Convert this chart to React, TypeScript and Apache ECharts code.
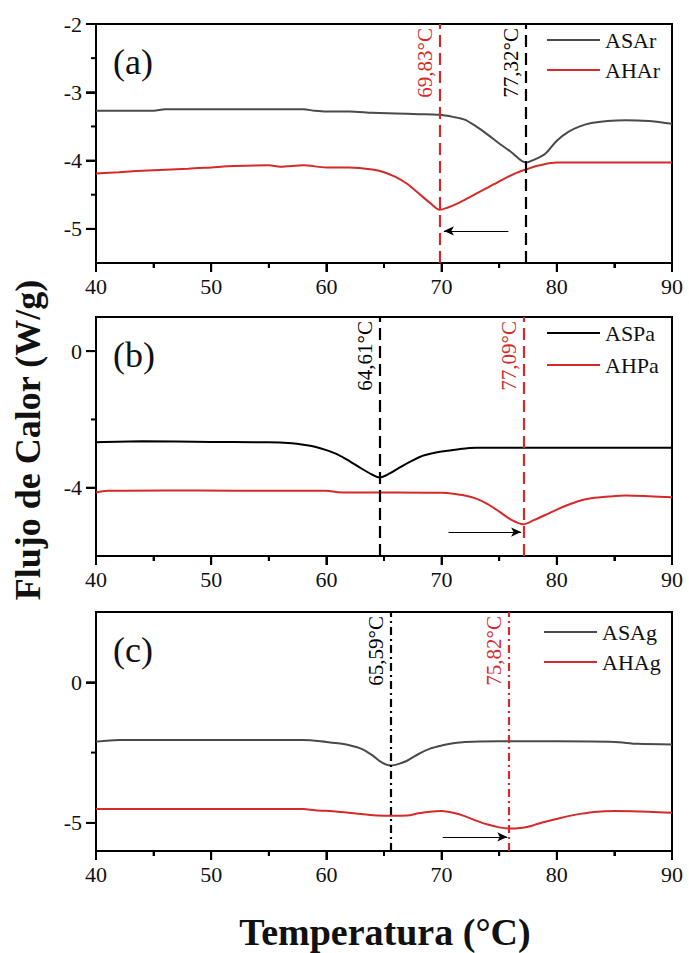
import React, { useEffect, useRef } from "react";
import * as echarts from "echarts";

const FONT = "Liberation Serif";
const RED = "#d42a2a";
const GRAY = "#4a4a4a";
const BLACK = "#000000";

// Panel (a)
const asarX = [40, 45, 46, 50, 55, 58, 59, 60, 62, 64, 66, 68, 69.8, 71, 72, 73, 74, 75, 76, 77.32, 78, 79, 80, 81, 82, 83, 84.4, 86, 88, 89, 90];
const asarY = [-3.27, -3.27, -3.25, -3.25, -3.25, -3.25, -3.27, -3.28, -3.28, -3.3, -3.31, -3.32, -3.33, -3.36, -3.4, -3.5, -3.62, -3.75, -3.87, -4.03, -3.99, -3.9, -3.71, -3.58, -3.5, -3.45, -3.42, -3.41, -3.42, -3.44, -3.46];
const aharX = [40, 42, 45, 48, 50, 52, 55, 56, 58, 60, 62, 64, 65, 66, 67, 68, 69, 69.83, 70.5, 71.5, 72.5, 73.5, 74.5, 75.5, 76.5, 77.5, 78.5, 80, 82, 85, 90];
const aharY = [-4.19, -4.17, -4.14, -4.12, -4.1, -4.08, -4.07, -4.09, -4.07, -4.1, -4.1, -4.13, -4.17, -4.24, -4.34, -4.48, -4.62, -4.72, -4.69, -4.62, -4.53, -4.44, -4.35, -4.26, -4.18, -4.12, -4.07, -4.03, -4.03, -4.03, -4.03];

// Panel (b)
const aspaX = [40, 44, 50, 55, 57, 58, 59, 60, 61, 62, 63, 64, 64.61, 65.5, 66.5, 67.5, 68.5, 70, 71.5, 73, 80, 90];
const aspaY = [-2.67, -2.64, -2.66, -2.67, -2.7, -2.74, -2.8, -2.9, -3.03, -3.22, -3.43, -3.62, -3.7, -3.58, -3.38, -3.2, -3.05, -2.94, -2.87, -2.83, -2.83, -2.83];
const ahpaX = [40, 41, 46, 52, 60, 61, 62, 66, 70, 71, 72, 73, 74, 75, 76, 77.09, 78, 79, 80, 81, 82, 83, 84.5, 86, 88, 90];
const ahpaY = [-4.14, -4.09, -4.08, -4.09, -4.09, -4.13, -4.14, -4.14, -4.15, -4.18, -4.23, -4.32, -4.48, -4.7, -4.93, -5.07, -4.95, -4.8, -4.64, -4.5, -4.38, -4.31, -4.26, -4.23, -4.25, -4.28];

// Panel (c)
const asagX = [40, 42, 50, 58, 60, 61, 62, 63, 64, 64.8, 65.59, 66.3, 67, 68, 69, 70, 71, 72, 75, 80, 85, 87, 90];
const asagY = [-2.11, -2.05, -2.05, -2.05, -2.12, -2.17, -2.24, -2.36, -2.6, -2.85, -2.96, -2.9, -2.79, -2.55, -2.36, -2.25, -2.17, -2.12, -2.1, -2.1, -2.12, -2.19, -2.21];
const ahagX = [40, 50, 58, 59, 61, 63, 64.5, 65.6, 67, 68, 69, 70, 71, 72, 73, 74, 75, 75.82, 77, 78, 79, 80, 81, 82, 83.5, 85, 88, 90];
const ahagY = [-4.51, -4.51, -4.51, -4.55, -4.6, -4.68, -4.74, -4.75, -4.74, -4.66, -4.6, -4.58, -4.64, -4.76, -4.92, -5.06, -5.16, -5.2, -5.17, -5.08, -4.96, -4.86, -4.76, -4.68, -4.6, -4.58, -4.6, -4.64];

// Peaks, labels and arrows
const peaks = [
  { as: 77.32, ah: 69.83, asText: "77,32°C", ahText: "69,83°C" },
  { as: 64.61, ah: 77.09, asText: "64,61°C", ahText: "77,09°C" },
  { as: 65.59, ah: 75.82, asText: "65,59°C", ahText: "75,82°C" },
];
const arrows = [
  { from: 75.8, to: 70.2, y: -5.03 },
  { from: 70.6, to: 76.9, y: -5.3 },
  { from: 70.1, to: 75.7, y: -5.5 },
];

// Axis settings
const X_MIN = 40;
const X_MAX = 90;
const xMajorTicks = [40, 50, 60, 70, 80, 90];
const xMinorTicks = [45, 55, 65, 75, 85];
const yRanges = [
  { min: -5.5, max: -2, major: [-5, -4, -3, -2], minor: [-4.5, -3.5, -2.5] },
  { min: -6, max: 1, major: [-4, 0], minor: [-2] },
  { min: -6, max: 2.5, major: [-5, 0], minor: [-2.5] },
];
const seriesNames = [
  ["ASAr", "AHAr"],
  ["ASPa", "AHPa"],
  ["ASAg", "AHAg"],
];
const panelLabels = ["(a)", "(b)", "(c)"];
const asColors = [GRAY, BLACK, GRAY];
const lineDash = [[12, 6], [12, 6], [8, 4, 2, 4]];

const GRID_TOPS = [24, 317, 612];
const GRID_LEFT = 96;
const GRID_W = 576;
const GRID_H = 239;

const pairs = (xs: number[], ys: number[]) => xs.map((x, i) => [x, ys[i]]);

const seriesData = [
  [pairs(asarX, asarY), pairs(aharX, aharY)],
  [pairs(aspaX, aspaY), pairs(ahpaX, ahpaY)],
  [pairs(asagX, asagY), pairs(ahagX, ahagY)],
];

function vline(x: number, ymin: number, ymax: number, color: string, dash: number[], text: string) {
  return [
    {
      coord: [x, ymin],
      symbol: "none",
      lineStyle: { color, width: 2.2, type: dash },
      label: {
        show: true,
        position: "insideEndTop",
        formatter: text,
        color,
        fontFamily: FONT,
        fontSize: 21,
        distance: 4,
      },
    },
    { coord: [x, ymax], symbol: "none" },
  ];
}

function arrowLine(a: { from: number; to: number; y: number }) {
  return [
    {
      coord: [a.from, a.y],
      symbol: "none",
      lineStyle: { color: "#000", width: 1.2, type: "solid" },
      label: { show: false },
    },
    { coord: [a.to, a.y], symbol: "arrow", symbolSize: [7, 10] },
  ];
}

// tick records for a panel: [x, y, kind (0 = x tick, 1 = y tick), length]
function tickData(p: number) {
  const yr = yRanges[p];
  const out: number[][] = [];
  xMajorTicks.forEach((v) => out.push([v, yr.min, 0, 9]));
  xMinorTicks.forEach((v) => out.push([v, yr.min, 0, 5]));
  yr.major.forEach((v) => out.push([X_MIN, v, 1, 10]));
  yr.minor.forEach((v) => out.push([X_MIN, v, 1, 5]));
  return out;
}

export default function App() {
  const ref = useRef<HTMLDivElement>(null);
  useEffect(() => {
    document.body.style.margin = "0";
    if (!ref.current) return;
    const chart = echarts.init(ref.current, null, { renderer: "svg" });

    const grids: any[] = [];
    const xAxes: any[] = [];
    const yAxes: any[] = [];
    const series: any[] = [];
    const legends: any[] = [];
    const graphics: any[] = [];
    const legendTops = [29, 322, 621];
    const legendLefts = [547, 547, 544];
    const legendGaps = [8, 10, 8];

    for (let p = 0; p < 3; p++) {
      grids.push({
        left: GRID_LEFT,
        top: GRID_TOPS[p],
        width: GRID_W,
        height: GRID_H,
        show: true,
        borderColor: "#000",
        borderWidth: 2,
        backgroundColor: "transparent",
      });
      xAxes.push({
        type: "value",
        gridIndex: p,
        position: "bottom",
        min: X_MIN,
        max: X_MAX,
        interval: 10,
        axisLine: { show: true, onZero: false, lineStyle: { color: "#000", width: 2 } },
        axisTick: { show: true, inside: false, length: 9, lineStyle: { color: "#000", width: 2 } },
        minorTick: { show: true, splitNumber: 2, length: 5, lineStyle: { color: "#000", width: 2 } },
        splitLine: { show: false },
        axisLabel: { color: "#111", fontFamily: FONT, fontSize: 22, margin: 12 },
      });
      const yr = yRanges[p];
      yAxes.push({
        type: "value",
        gridIndex: p,
        position: "left",
        min: yr.min,
        max: yr.max,
        axisLine: { show: true, onZero: false, lineStyle: { color: "#000", width: 2 } },
        axisTick: { show: true, inside: false, length: 10, customValues: yr.major, lineStyle: { color: "#000", width: 2 } },
        axisLabel: { customValues: yr.major, color: "#111", fontFamily: FONT, fontSize: 22, margin: 14 },
        splitLine: { show: false },
      });
      const pk = peaks[p];
      const [asName, ahName] = seriesNames[p];
      series.push({
        name: asName,
        type: "line",
        xAxisIndex: p,
        yAxisIndex: p,
        data: seriesData[p][0],
        symbol: "none",
        smooth: 0.3,
        lineStyle: { color: asColors[p], width: 2 },
        itemStyle: { color: asColors[p] },
        markLine: {
          silent: true,
          symbol: "none",
          data: [vline(pk.as, yr.min, yr.max, BLACK, lineDash[p], pk.asText)],
        },
      });
      series.push({
        name: ahName,
        type: "line",
        xAxisIndex: p,
        yAxisIndex: p,
        data: seriesData[p][1],
        symbol: "none",
        smooth: 0.3,
        lineStyle: { color: RED, width: 2 },
        itemStyle: { color: RED },
        markLine: {
          silent: true,
          symbol: "none",
          data: [
            vline(pk.ah, yr.min, yr.max, RED, lineDash[p], pk.ahText),
            arrowLine(arrows[p]),
          ],
        },
      });
      // Axis ticks drawn through the panel's own axes (custom series, not clipped)
      series.push({
        type: "custom",
        name: "ticks" + p,
        xAxisIndex: p,
        yAxisIndex: p,
        clip: false,
        silent: true,
        z: 50,
        encode: { x: 0, y: 1 },
        data: tickData(p),
        renderItem: (params: any, api: any) => {
          const pt = api.coord([api.value(0), api.value(1)]);
          const kind = api.value(2);
          const len = api.value(3);
          const shape =
            kind === 0
              ? { x: pt[0] - 1, y: pt[1], width: 2, height: len }
              : { x: pt[0] - len, y: pt[1] - 1, width: len, height: 2 };
          return { type: "rect", shape, style: { fill: "#000" } };
        },
      });
      legends.push({
        data: [asName, ahName],
        orient: "vertical",
        left: legendLefts[p],
        top: legendTops[p],
        padding: 0,
        icon: "rect",
        itemWidth: 53,
        itemHeight: 2,
        itemGap: legendGaps[p],
        textStyle: { fontFamily: FONT, fontSize: 22, color: "#111" },
      });
      graphics.push({
        type: "text",
        left: 113,
        top: GRID_TOPS[p] + 20,
        style: { text: panelLabels[p], fontFamily: FONT, fontSize: 36, fill: "#111" },
      });
    }

    graphics.push({
      type: "text",
      x: 28,
      y: 440,
      rotation: Math.PI / 2,
      style: {
        text: "Flujo de Calor (W/g)",
        fontFamily: FONT,
        fontWeight: "bold",
        fontSize: 36,
        fill: "#111",
        align: "center",
        verticalAlign: "middle",
      },
    });
    graphics.push({
      type: "text",
      x: 385,
      y: 932,
      style: {
        text: "Temperatura (°C)",
        fontFamily: FONT,
        fontWeight: "bold",
        fontSize: 38,
        fill: "#111",
        align: "center",
        verticalAlign: "middle",
      },
    });

    chart.setOption({
      animation: false,
      backgroundColor: "#fff",
      grid: grids,
      xAxis: xAxes,
      yAxis: yAxes,
      legend: legends,
      series,
      graphic: graphics,
    });

    return () => chart.dispose();
  }, []);
  return <div ref={ref} style={{ width: 689, height: 953 }} />;
}
